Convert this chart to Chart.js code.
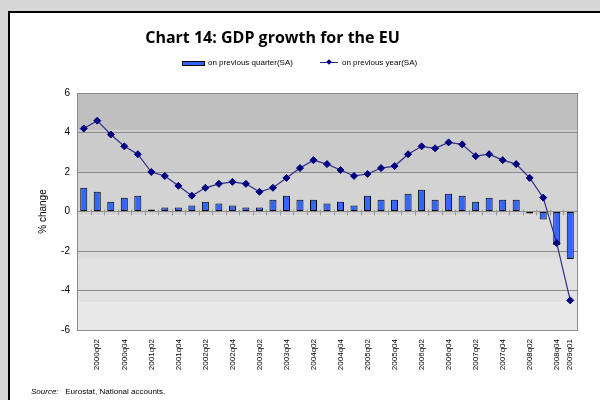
<!DOCTYPE html>
<html>
<head>
<meta charset="utf-8">
<script src="https://cdn.jsdelivr.net/npm/chart.js@4.4.0/dist/chart.umd.min.js"></script>
<style>
  html, body { margin: 0; padding: 0; }
  body { width: 600px; height: 400px; background: #d6d6d6; overflow: hidden; position: relative;
         font-family: "Liberation Sans", Arial, sans-serif; }
  #panel { position: absolute; left: 8px; top: 11px; width: 640px; height: 440px; background: #fff; border: 2px solid #000; }
  #chart { position: absolute; left: 0; top: 0; }
  #title { position: absolute; left: 0; top: 26px; width: 545px; text-align: center;
           font: bold 16px "Open Sans", sans-serif; line-height: 22px; color: #000; }
  .lg { position: absolute; font-size: 8px; line-height: 10px; top: 58px; color: #000; white-space: nowrap; }
  #swBar { position: absolute; left: 182px; top: 61px; width: 21px; height: 3px; background: #3366ff; border: 1px solid #000; }
  #swLine { position: absolute; left: 320px; top: 62px; width: 18px; height: 1px; background: #2a2a8a; }
  #swDot { position: absolute; left: 327px; top: 60px; width: 4px; height: 4px; background: #000080; transform: rotate(45deg); }
  #source { position: absolute; left: 31px; top: 387px; font-size: 8px; line-height: 10px; color: #000; white-space: nowrap; }
</style>
</head>
<body>
<div id="panel"></div>
<canvas id="chart" width="600" height="400"></canvas>
<div id="title">Chart 14: GDP growth for the EU</div>
<div id="swBar"></div><div class="lg" style="left:208px">on previous quarter(SA)</div>
<div id="swLine"></div><div id="swDot"></div><div class="lg" style="left:342px">on previous year(SA)</div>
<div id="source"><i>Source:</i>&nbsp;&nbsp; Eurostat, National accounts.</div>
<script>
// trimestres 2000q1 - 2009q1
var quarters = [
  '2000q01', '2000q02', '2000q03', '2000q04',
  '2001q01', '2001q02', '2001q03', '2001q04',
  '2002q01', '2002q02', '2002q03', '2002q04',
  '2003q01', '2003q02', '2003q03', '2003q04',
  '2004q01', '2004q02', '2004q03', '2004q04',
  '2005q01', '2005q02', '2005q03', '2005q04',
  '2006q01', '2006q02', '2006q03', '2006q04',
  '2007q01', '2007q02', '2007q03', '2007q04',
  '2008q01', '2008q02', '2008q03', '2008q04',
  '2009q01'
];

// on previous quarter (SA), bars
var onPrevQuarter = [
  1.2, 1.0, 0.5, 0.7,
  0.8, 0.1, 0.2, 0.2,
  0.3, 0.5, 0.4, 0.3,
  0.2, 0.2, 0.6, 0.8,
  0.6, 0.6, 0.4, 0.5,
  0.3, 0.8, 0.6, 0.6,
  0.9, 1.1, 0.6, 0.9,
  0.8, 0.5, 0.7, 0.6,
  0.6, -0.1, -0.4, -1.7,
  -2.4
];

// on previous year (SA), line
var onPrevYear = [
  4.2, 4.6, 3.9, 3.3,
  2.9, 2.0, 1.8, 1.3,
  0.8, 1.2, 1.4, 1.5,
  1.4, 1.0, 1.2, 1.7,
  2.2, 2.6, 2.4, 2.1,
  1.8, 1.9, 2.2, 2.3,
  2.9, 3.3, 3.2, 3.5,
  3.4, 2.8, 2.9, 2.6,
  2.4, 1.7, 0.7, -1.6,
  -4.5
];

var yMin = -6, yMax = 6, yStep = 2;

Chart.defaults.font.family = '"Liberation Sans", Arial, sans-serif';
Chart.defaults.color = '#000';

// fondo en franjas, marcas sobre el eje cero y borde del area
var fondoExcel = {
  id: 'fondoExcel',
  beforeDraw: function (chart) {
    var ctx = chart.ctx, a = chart.chartArea, y = chart.scales.y;
    var cortes = [6, 4.1, 2, -0.2, -2.4, -4.6, -6];
    var colores = ['#c0c0c0', '#cbcbcb', '#d3d3d3', '#dbdbdb', '#e1e1e1', '#e8e8e8'];
    ctx.save();
    for (var i = 0; i < colores.length; i++) {
      var y1 = y.getPixelForValue(cortes[i]);
      var y2 = y.getPixelForValue(cortes[i + 1]);
      ctx.fillStyle = colores[i];
      ctx.fillRect(a.left, y1, a.right - a.left, y2 - y1);
    }
    ctx.restore();
  },
  beforeDatasetsDraw: function (chart) {
    var ctx = chart.ctx, a = chart.chartArea, x = chart.scales.x, y = chart.scales.y;
    var y0 = Math.round(y.getPixelForValue(0)) + 0.5;
    ctx.save();
    ctx.strokeStyle = '#999';
    ctx.lineWidth = 1;
    ctx.beginPath();
    for (var i = 1; i < quarters.length; i++) {
      var px = Math.round((x.getPixelForValue(i - 1) + x.getPixelForValue(i)) / 2) + 0.5;
      ctx.moveTo(px, y0 - 3);
      ctx.lineTo(px, y0 + 3);
    }
    ctx.stroke();
    ctx.strokeStyle = '#8c8c8c';
    ctx.strokeRect(Math.round(a.left) + 0.5, Math.round(a.top) + 0.5,
      Math.round(a.right - a.left), Math.round(a.bottom - a.top));
    ctx.restore();
  }
};

var ctx = document.getElementById('chart').getContext('2d');
var gdpChart = new Chart(ctx, {
  type: 'bar',
  data: {
    labels: quarters,
    datasets: [{
      type: 'line',
      label: 'on previous year(SA)',
      data: onPrevYear,
      order: 0,
      borderColor: '#2e2e8c',
      borderWidth: 1.2,
      tension: 0,
      pointStyle: 'rectRot',
      pointRadius: 3.5,
      pointBackgroundColor: '#000080',
      pointBorderColor: '#000080',
      pointBorderWidth: 1
    }, {
      type: 'bar',
      label: 'on previous quarter(SA)',
      data: onPrevQuarter,
      order: 1,
      backgroundColor: '#3366ff',
      borderColor: '#000',
      borderWidth: 1,
      borderSkipped: false,
      barPercentage: 0.52,
      categoryPercentage: 1
    }]
  },
  options: {
    responsive: false,
    animation: false,
    layout: { padding: { left: 35, right: 23, top: 93, bottom: 0 } },
    plugins: {
      legend: { display: false },
      title: { display: false },
      tooltip: { enabled: false }
    },
    scales: {
      x: {
        offset: true,
        grid: { display: false },
        border: { display: false },
        ticks: {
          autoSkip: false,
          maxRotation: 90,
          minRotation: 90,
          padding: 1,
          font: { size: 8 },
          callback: function (v, i) {
            return (i % 2 === 1 || i === quarters.length - 1) ? quarters[i] : '';
          }
        },
        afterFit: function (s) { s.height = 70; }
      },
      y: {
        min: yMin,
        max: yMax,
        ticks: { stepSize: yStep, padding: 7, font: { size: 10 } },
        grid: { color: '#8c8c8c', drawTicks: false },
        border: { color: '#8c8c8c' },
        title: { display: true, text: '% change', font: { size: 10 }, padding: { top: 2, bottom: 0 } },
        afterFit: function (s) { s.width = 42; }
      }
    }
  },
  plugins: [fondoExcel]
});
</script>
</body>
</html>
